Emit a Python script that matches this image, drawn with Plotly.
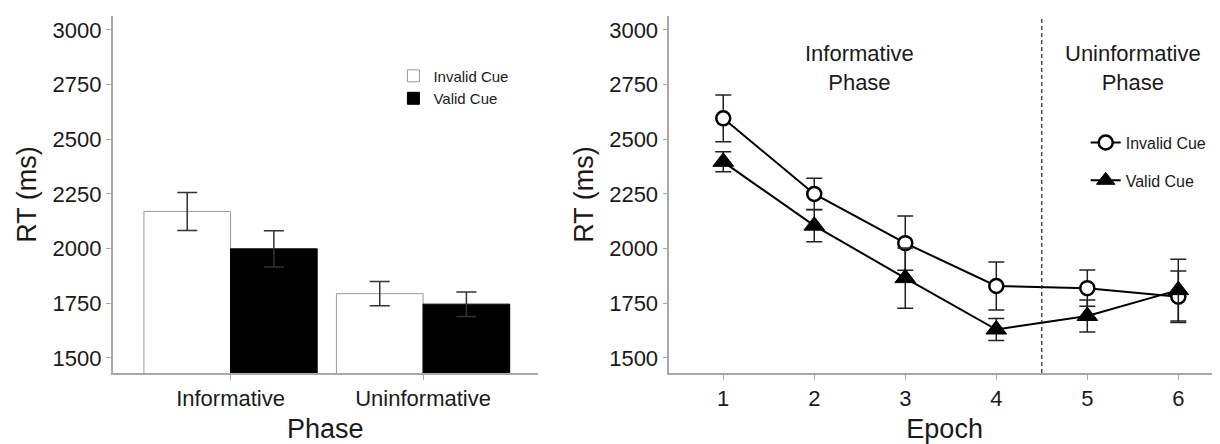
import plotly.graph_objects as go

# ---- data: left panel (bar chart) ----
phases = ["Informative", "Uninformative"]
bar_invalid = [2170, 1794]
bar_invalid_err = [87, 55]
bar_valid = [1999, 1746]
bar_valid_err = [83, 56]

# ---- data: right panel (epoch lines) ----
epochs = [1, 2, 3, 4, 5, 6]
line_invalid = [2596, 2250, 2025, 1829, 1819, 1780]
line_invalid_err = [107, 72, 124, 110, 83, 118]
line_valid = [2397, 2105, 1865, 1630, 1692, 1810]
line_valid_err = [46, 74, 138, 50, 73, 141]

y_ticks = [1500, 1750, 2000, 2250, 2500, 2750, 3000]
phase_labels = ["Informative<br>Phase", "Uninformative<br>Phase"]
phase_label_x = [2.5, 5.5]
phase_boundary = 4.5

FONT = "Liberation Sans, Arial, Helvetica, sans-serif"
TXT = "#1a1a1a"
AXC = "#a8a8a8"

fig = go.Figure()

fig.add_trace(go.Bar(
    x=phases, y=bar_invalid, name="Invalid Cue",
    marker=dict(color="white", line=dict(color="#9a9a9a", width=1)),
    error_y=dict(type="data", array=bar_invalid_err, color="#333333", thickness=1.5, width=10),
    xaxis="x", yaxis="y", legend="legend",
))
fig.add_trace(go.Bar(
    x=phases, y=bar_valid, name="Valid Cue",
    marker=dict(color="black", line=dict(color="black", width=1)),
    error_y=dict(type="data", array=bar_valid_err, color="#333333", thickness=1.5, width=10),
    xaxis="x", yaxis="y", legend="legend",
))

fig.add_trace(go.Scatter(
    x=epochs, y=line_invalid, name="Invalid Cue", mode="lines+markers",
    line=dict(color="black", width=2),
    marker=dict(symbol="circle", size=14, color="white", line=dict(color="black", width=2.5)),
    error_y=dict(type="data", array=line_invalid_err, color="#222222", thickness=1.5, width=8),
    xaxis="x2", yaxis="y2", legend="legend2", legendgroup="inv",
))
fig.add_trace(go.Scatter(
    x=epochs, y=line_valid, name="Valid Cue", mode="lines+markers",
    line=dict(color="black", width=2),
    marker=dict(symbol="triangle-up", size=18, color="black", line=dict(color="black", width=1)),
    error_y=dict(type="data", array=line_valid_err, color="#222222", thickness=1.5, width=8),
    xaxis="x2", yaxis="y2", legend="legend2", legendgroup="val",
))

axis_common = dict(
    showline=True, linecolor=AXC, linewidth=1.5,
    ticks="outside", ticklen=5, tickcolor=AXC, tickwidth=1.2,
    showgrid=False, zeroline=False,
    tickfont=dict(family=FONT, size=22, color=TXT),
)
yrange = [1431, 3064]

fig.update_layout(
    width=1212, height=436,
    margin=dict(l=0, r=0, t=8, b=71),
    paper_bgcolor="white", plot_bgcolor="white",
    font=dict(family=FONT, color=TXT),
    barmode="group", bargap=0.1, bargroupgap=0,
    xaxis=dict(axis_common, domain=[0.0864, 0.4373], type="category",
               range=[-0.612, 1.597], anchor="y",
               title=dict(text="Phase", font=dict(family=FONT, size=27, color=TXT), standoff=10)),
    yaxis=dict(axis_common, domain=[0, 1], range=yrange, anchor="x",
               tickvals=y_ticks, tickformat="d",
               title=dict(text="RT (ms)", font=dict(family=FONT, size=27, color=TXT), standoff=8)),
    xaxis2=dict(axis_common, domain=[0.5456, 1.0], range=[0.407, 6.458], anchor="y2",
                tickvals=epochs,
                title=dict(text="Epoch", font=dict(family=FONT, size=27, color=TXT), standoff=10)),
    yaxis2=dict(axis_common, domain=[0, 1], range=yrange, anchor="x2",
                tickvals=y_ticks, tickformat="d",
                title=dict(text="RT (ms)", font=dict(family=FONT, size=27, color=TXT), standoff=8)),
    legend=dict(x=0.318, y=0.878, xanchor="left", yanchor="top",
                font=dict(family=FONT, size=15, color=TXT), bgcolor="rgba(0,0,0,0)",
                tracegroupgap=0, itemwidth=30),
    legend2=dict(x=0.8892, y=0.693, xanchor="left", yanchor="top",
                 font=dict(family=FONT, size=16, color=TXT), bgcolor="rgba(0,0,0,0)",
                 tracegroupgap=14, itemwidth=30),
    showlegend=True,
)

fig.add_shape(type="line", xref="x2", yref="y2 domain",
              x0=phase_boundary, x1=phase_boundary, y0=0, y1=1,
              line=dict(color="#222222", width=1.2, dash="4px,3px"))

for txt, xp in zip(phase_labels, phase_label_x):
    fig.add_annotation(x=xp, y=2825, xref="x2", yref="y2", text=txt, showarrow=False,
                       font=dict(family=FONT, size=22, color=TXT), align="center",
                       xanchor="center", yanchor="middle")

fig.write_html("out.html")
